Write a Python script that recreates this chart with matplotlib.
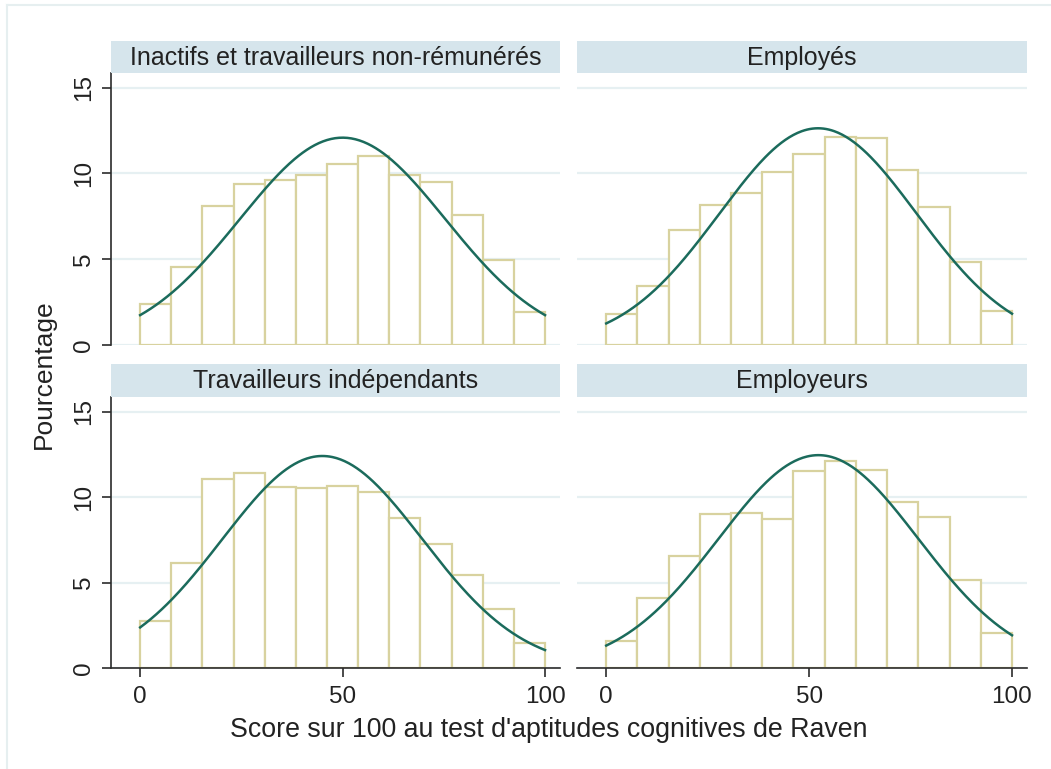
import numpy as np
import matplotlib
matplotlib.use("Agg")
import matplotlib.pyplot as plt
from matplotlib.lines import Line2D

plt.rcParams['font.family'] = ['Liberation Sans', 'DejaVu Sans']

# groupes de statut d'emploi
groupes = ["Inactifs et travailleurs non-rémunérés", "Employés",
           "Travailleurs indépendants", "Employeurs"]

# pourcentages par classe (13 classes de 0 à 100)
inactifs = [2.37, 4.57, 8.12, 9.40, 9.64, 9.93, 10.57, 11.04, 9.93, 9.48, 7.60, 4.97, 1.94]
employes = [1.81, 3.44, 6.68, 8.14, 8.86, 10.10, 11.15, 12.14, 12.08, 10.20, 8.06, 4.86, 1.98]
independants = [2.72, 6.14, 11.07, 11.40, 10.59, 10.55, 10.67, 10.32, 8.80, 7.27, 5.44, 3.46, 1.46]
employeurs = [1.55, 4.10, 6.55, 9.02, 9.09, 8.72, 11.54, 12.08, 11.56, 9.71, 8.82, 5.13, 2.02]
pourcentages = [inactifs, employes, independants, employeurs]

# moyenne et écart-type du score pour la densité normale
moyennes = [50.0, 52.2, 45.0, 52.3]
ecarts = [25.4, 24.3, 24.75, 24.65]

n_classes = 13
bornes = np.linspace(0, 100, n_classes + 1)
largeur = bornes[1] - bornes[0]

W, H = 1051, 769
fig = plt.figure(figsize=(W / 100, H / 100), dpi=100)
fig.patch.set_facecolor('white')

# cadre léger autour du graphique
fig.add_artist(Line2D([7 / W, 7 / W], [0, 1 - 5 / H], transform=fig.transFigure,
                      color='#e6eff0', lw=1.5))
fig.add_artist(Line2D([7 / W, 1], [1 - 5 / H, 1 - 5 / H], transform=fig.transFigure,
                      color='#e6eff0', lw=1.5))

def px_box(x0, y0, x1, y1):
    return [x0 / W, 1 - y1 / H, (x1 - x0) / W, (y1 - y0) / H]

cadres = [(111, 73, 560, 345), (577, 73, 1027, 345),
          (111, 397, 560, 668), (577, 397, 1027, 668)]
bandeaux = [(111, 41, 560, 73), (577, 41, 1027, 73),
            (111, 364, 560, 397), (577, 364, 1027, 397)]

couleur_barre = '#d8d29f'
couleur_courbe = '#1b6b5c'
couleur_axe = '#2b2b2b'

xs = np.linspace(0, 100, 300)

for i in range(4):
    ax = fig.add_axes(px_box(*cadres[i]))
    ax.set_facecolor('white')
    for y in [0, 5, 10, 15]:
        ax.axhline(y, color='#e6f0f2', lw=1.6, zorder=0)
    ax.bar(bornes[:-1], pourcentages[i], width=largeur, align='edge',
           facecolor='white', edgecolor=couleur_barre, lw=1.6, zorder=2)
    dens = 100 * largeur * np.exp(-0.5 * ((xs - moyennes[i]) / ecarts[i]) ** 2) \
        / (ecarts[i] * np.sqrt(2 * np.pi))
    ax.plot(xs, dens, color=couleur_courbe, lw=1.8, zorder=3)
    ax.set_xlim(-7.2, 103.7)
    ax.set_ylim(0, 15.85)
    for s in ['top', 'right']:
        ax.spines[s].set_visible(False)
    gauche = i % 2 == 0
    bas = i >= 2
    ax.spines['left'].set_visible(gauche)
    ax.spines['bottom'].set_visible(bas)
    ax.spines['left'].set_color(couleur_axe)
    ax.spines['bottom'].set_color(couleur_axe)
    ax.spines['left'].set_linewidth(1.2)
    ax.spines['bottom'].set_linewidth(1.2)
    if gauche:
        ax.set_yticks([0, 5, 10, 15])
        ax.set_yticklabels(['0', '5', '10', '15'], rotation=90, va='center')
        ax.tick_params(axis='y', length=6.5, width=1.2, color=couleur_axe,
                       labelsize=17.5, labelcolor='#222222', pad=5)
    else:
        ax.set_yticks([])
    if bas:
        ax.set_xticks([0, 50, 100])
        ax.tick_params(axis='x', length=6.5, width=1.2, color=couleur_axe,
                       labelsize=17.5, labelcolor='#222222', pad=6.5)
    else:
        ax.set_xticks([])

    bx = fig.add_axes(px_box(*bandeaux[i]))
    bx.set_facecolor('#d6e5ec')
    bx.set_xticks([])
    bx.set_yticks([])
    for s in bx.spines.values():
        s.set_visible(False)
    bx.text(0.5, 0.48, groupes[i], ha='center', va='center', fontsize=18,
            color='#222222', transform=bx.transAxes)

fig.text(549 / W, 1 - 730 / H, "Score sur 100 au test d'aptitudes cognitives de Raven",
         ha='center', va='center', fontsize=19.3, color='#222222')
fig.text(44 / W, 1 - 374 / H, "Pourcentage", ha='center', va='center',
         rotation=90, fontsize=19, color='#222222')

fig.savefig('out.png', dpi=100, facecolor='white')
